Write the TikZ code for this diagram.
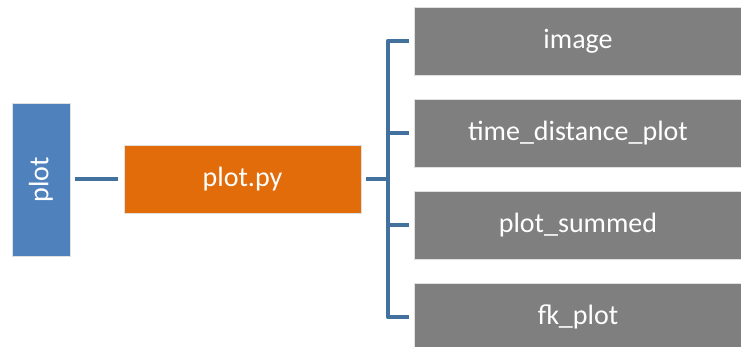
\documentclass[tikz,border=0pt]{standalone}
\usepackage{fontspec}
\setmainfont{Carlito}
\definecolor{boxblue}{HTML}{4F81BD}
\definecolor{boxorange}{HTML}{E36C0A}
\definecolor{boxgray}{HTML}{7F7F7F}
\definecolor{linkblue}{HTML}{41719C}
\begin{document}
\begin{tikzpicture}[x=1pt,y=-1pt,
  blk/.style={inner sep=0pt, draw=white!88!black, line width=0.8pt, text=white,
    font=\fontsize{28}{34}\selectfont},
  root/.style={blk, fill=boxblue, minimum width=58pt, minimum height=153pt},
  mid/.style={blk, fill=boxorange, minimum width=237pt, minimum height=68pt},
  leaf/.style={blk, fill=boxgray, minimum width=328pt, minimum height=68pt},
  link/.style={draw=linkblue, line width=4.5pt, line join=round}]
\useasboundingbox (0,0) rectangle (741,347);
\begin{scope}
\clip (0,0) rectangle (741,347);
\node[root] (plot) at (41,179.5) {};
\node[rotate=90, text=white, font=\fontsize{28}{34}\selectfont, inner sep=0pt] (plotlbl) at (plot.center) {plot};
\node[mid] (py) at (242.5,179) {plot.py};
\node[leaf] (img) at (578,41) {image};
\node[leaf] (tdp) at (578,133) {time\_distance\_plot};
\node[leaf] (sum) at (578,225) {plot\_summed};
\node[leaf] (fk) at (578,317) {fk\_plot};
% connectors
\draw[link, shorten <=5pt, shorten >=6pt] (plot.east |- py.west) -- (py.west);
\coordinate (hub) at (388,179);
\draw[link, shorten <=5pt] (py.east) -- (hub);
\draw[link] ([xshift=-5pt]img.west) -| (hub) |- ([xshift=-5pt]fk.west);
\draw[link] (hub |- tdp.west) -- ([xshift=-5pt]tdp.west);
\draw[link] (hub |- sum.west) -- ([xshift=-5pt]sum.west);
\end{scope}
\end{tikzpicture}
\end{document}
